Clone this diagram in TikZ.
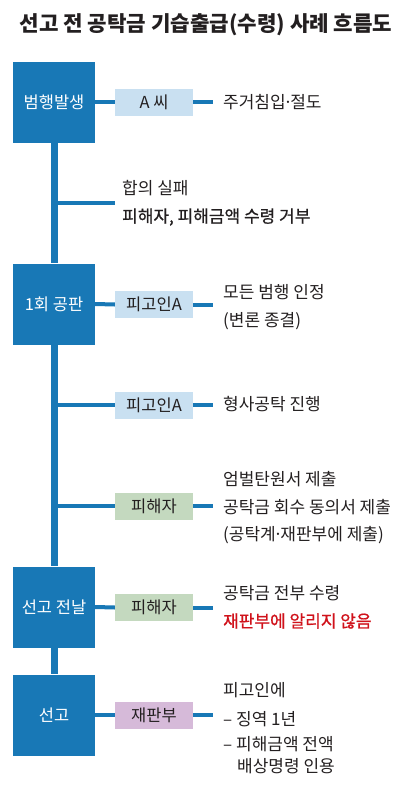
\documentclass[tikz,border=0pt]{standalone}
\usepackage{fontspec}
\setmainfont{Noto Sans CJK KR}
\definecolor{cblue}{RGB}{24,120,182}
\definecolor{clblue}{RGB}{201,224,241}
\definecolor{cgreen}{RGB}{196,217,191}
\definecolor{cpurple}{RGB}{214,186,217}
\definecolor{ctext}{RGB}{35,31,32}
\definecolor{cred}{RGB}{208,18,27}
\newcommand{\mdot}{\kern-2.5pt·\kern-2.5pt}
\begin{document}
\begin{tikzpicture}[x=1pt,y=-1pt,
  bigbox/.style={fill=cblue, text=white, minimum width=82pt, minimum height=81pt, inner sep=0pt, font=\fontsize{16.5}{18}\selectfont},
  tag/.style={minimum width=78pt, minimum height=27pt, inner sep=0pt, text=ctext, font=\fontsize{16.5}{18}\selectfont},
  body/.style={anchor=west, inner sep=0pt, text=ctext, font=\fontsize{17}{19}\selectfont},
  medium/.style={font=\fontsize{17}{19}\selectfont\addfontfeature{FakeBold=0.9}},
  link/.style={draw=cblue, line width=4pt},
  spine/.style={draw=cblue, line width=7pt}]
\useasboundingbox (0,0) rectangle (412,805);
\node[font=\bfseries\fontsize{21.2}{24}\selectfont, text=ctext, inner sep=0pt] (title) at (206,25) {선고 전 공탁금 기습출급(수령) 사례 흐름도};
% main boxes
\node[bigbox] (b1) at (54,102.5) {범행발생};
\node[bigbox] (b2) at (54,304) {1회 공판};
\node[bigbox] (b3) at (54,607) {선고 전날};
\node[bigbox] (b4) at (54,715) {선고};
% spine
\draw[spine] (b1.south) -- (b2.north);
\draw[spine] (b2.south) -- (b3.north);
\draw[spine] (b3.south) -- (b4.north);
% tags
\node[tag, fill=clblue] (l1) at (154,102.5) {A 씨};
\node[tag, fill=clblue] (l2) at (154,304.5) {피고인A};
\node[tag, fill=clblue] (l3) at (154,405) {피고인A};
\node[tag, fill=cgreen] (l4) at (154,506) {피해자};
\node[tag, fill=cgreen] (l5) at (154,607.5) {피해자};
\node[tag, fill=cpurple] (l6) at (154,715) {재판부};
% junctions and ends
\coordinate (j1) at (54,203);
\coordinate (k1) at (115,203);
\coordinate (j2) at (54,405);
\coordinate (j3) at (54,506);
\coordinate (e1) at (213,102.5);
\coordinate (e2) at (213,304.5);
\coordinate (e3) at (213,405);
\coordinate (e4) at (213,506);
\coordinate (e5) at (213,607.5);
\coordinate (e6) at (213,715);
% connectors
\draw[link] (b1.east) -- (l1.west);
\draw[link] (l1.east) -- (e1);
\draw[link] (j1) -- (k1);
\draw[link] (b2.east) -- (l2.west);
\draw[link] (l2.east) -- (e2);
\draw[link] (j2) -- (l3.west);
\draw[link] (l3.east) -- (e3);
\draw[link] (j3) -- (l4.west);
\draw[link] (l4.east) -- (e4);
\draw[link] (b3.east) -- (l5.west);
\draw[link] (l5.east) -- (e5);
\draw[link] (b4.east) -- (l6.west);
\draw[link] (l6.east) -- (e6);
% texts
\node[body] (t1) at (223,102.5) {주거침입\mdot 절도};
\node[body] (t2a) at (122,188) {합의 실패};
\node[body, medium] (t2b) at (122,217) {피해자, 피해금액 수령 거부};
\node[body] (t3a) at (223,292) {모든 범행 인정};
\node[body] (t3b) at (223,321) {(변론 종결)};
\node[body] (t4) at (223,404) {형사공탁 진행};
\node[body] (t5a) at (223,479) {엄벌탄원서 제출};
\node[body] (t5b) at (223,507) {공탁금 회수 동의서 제출};
\node[body] (t5c) at (223,535) {(공탁계\mdot 재판부에 제출)};
\node[body] (t6a) at (223,593) {공탁금 전부 수령};
\node[body, medium, text=cred] (t6b) at (223,621) {재판부에 알리지 않음};
\node[body] (t7a) at (223,690) {피고인에};
\node[body] (t7b) at (223,719) {– 징역 1년};
\node[body] (t7c) at (223,744) {– 피해금액 전액};
\node[body] (t7d) at (237,766) {배상명령 인용};
\end{tikzpicture}
\end{document}
